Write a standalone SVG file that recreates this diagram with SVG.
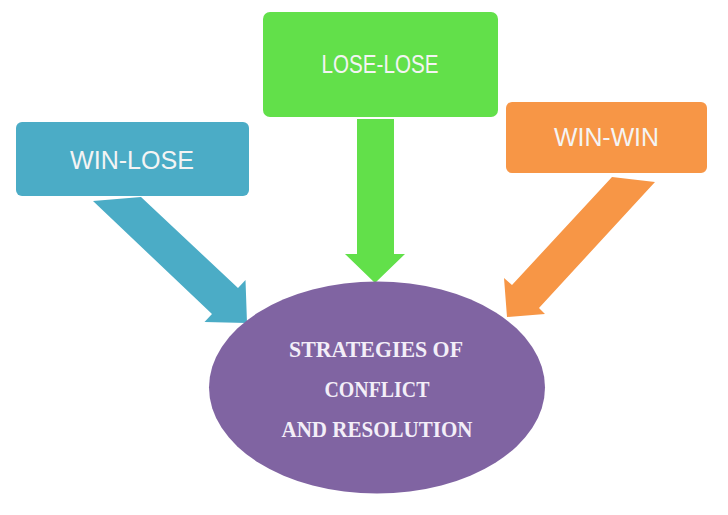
<svg xmlns="http://www.w3.org/2000/svg" width="728" height="515" viewBox="0 0 728 515">
<style>
.lbl{font-family:"Liberation Sans","Open Sans",Arial,sans-serif;font-size:25px;fill:#f4f4f4;text-anchor:middle}
.ctr{font-family:"Liberation Serif","DejaVu Serif",serif;font-size:24px;font-weight:bold;fill:#f3eef8;text-anchor:middle}
</style>
<rect width="728" height="515" fill="#ffffff"/>
<g id="connectors">
<polygon fill="#4bacc6" points="93,201 141,197 238,288 245.5,280 247,323 204.5,322 212,314"/>
<polygon fill="#62e04a" points="357,119 394,119 394,254 405,254 375,283 345,254 357,254"/>
<polygon fill="#f79646" points="612,177 655,182 539,308 545,314 507,317 504,278 512,285"/>
</g>
<g id="win-lose">
<rect x="16" y="122" width="233" height="74" rx="6" fill="#4bacc6"/>
<text class="lbl" x="132" y="169" textLength="124" lengthAdjust="spacingAndGlyphs">WIN-LOSE</text>
</g>
<g id="lose-lose">
<rect x="263" y="12" width="235" height="105" rx="7" fill="#62e04a"/>
<text class="lbl" x="380" y="73" textLength="117" lengthAdjust="spacingAndGlyphs">LOSE-LOSE</text>
</g>
<g id="win-win">
<rect x="506" y="102" width="201" height="71" rx="6" fill="#f79646"/>
<text class="lbl" x="606.5" y="146" textLength="105" lengthAdjust="spacingAndGlyphs">WIN-WIN</text>
</g>
<g id="center">
<ellipse cx="377" cy="387.5" rx="168" ry="106" fill="#8064a2"/>
<text class="ctr" x="376" y="357" textLength="174" lengthAdjust="spacingAndGlyphs">STRATEGIES OF</text>
<text class="ctr" x="377" y="397" textLength="105" lengthAdjust="spacingAndGlyphs">CONFLICT</text>
<text class="ctr" x="377" y="437" textLength="191" lengthAdjust="spacingAndGlyphs">AND RESOLUTION</text>
</g>
</svg>
